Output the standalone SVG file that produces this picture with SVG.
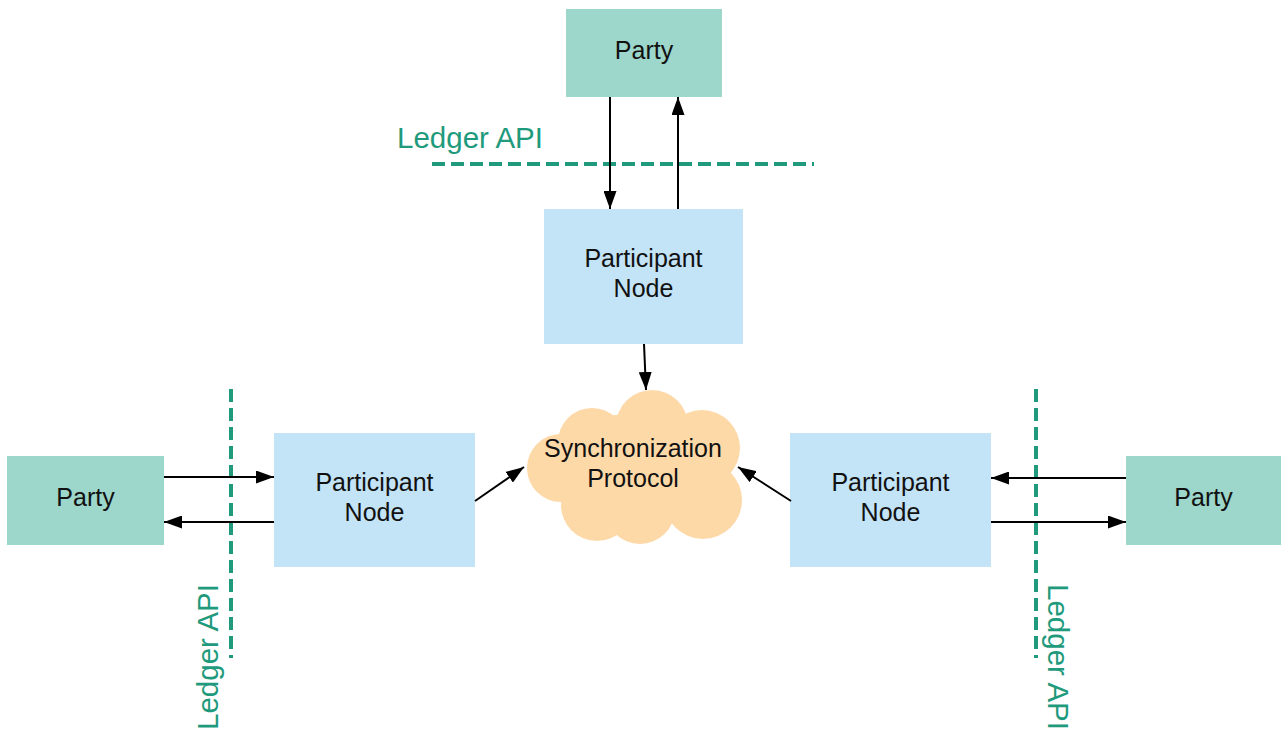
<svg xmlns="http://www.w3.org/2000/svg" width="1281" height="731" viewBox="0 0 1281 731">
<defs>
<marker id="arr" viewBox="0 0 18 13" refX="18" refY="6.5" markerWidth="18" markerHeight="13" markerUnits="userSpaceOnUse" orient="auto">
<path d="M0,0 L18,6.5 L0,13 Z" fill="#000"/>
</marker>
<style>
.party{fill:#9dd6cb}
.pn{fill:#c3e3f6}
.cloud{fill:#fed9a8}
.t{font-family:"Liberation Sans",Arial,sans-serif;font-size:25px;fill:#111;text-anchor:middle}
.api{font-family:"Liberation Sans",Arial,sans-serif;font-size:29.5px;fill:#1f9a7c}
.dash{stroke:#1f9a7c;stroke-width:4;stroke-dasharray:13,6;fill:none}
.c{stroke:#000;stroke-width:2;fill:none;marker-end:url(#arr)}
</style>
</defs>
<rect width="1281" height="731" fill="#fff"/>
<g id="api-lines">
<line class="dash" x1="432" y1="164" x2="814" y2="164"/>
<line class="dash" x1="231" y1="389" x2="231" y2="658"/>
<line class="dash" x1="1036" y1="389" x2="1036" y2="658"/>
<text class="api" x="397" y="148">Ledger API</text>
<text class="api" transform="translate(218,730) rotate(-90)">Ledger API</text>
<text class="api" transform="translate(1048,584) rotate(90)">Ledger API</text>
</g>
<g id="party-top">
<rect class="party" x="566" y="9" width="156" height="88"/>
<text class="t" x="644" y="59">Party</text>
</g>
<g id="pn-top">
<rect class="pn" x="544" y="209" width="199" height="135"/>
<text class="t" x="643.5" y="267">Participant</text>
<text class="t" x="643.5" y="297">Node</text>
</g>
<g id="party-left">
<rect class="party" x="7" y="456" width="157" height="89"/>
<text class="t" x="85.5" y="506">Party</text>
</g>
<g id="pn-left">
<rect class="pn" x="274" y="433" width="201" height="134"/>
<text class="t" x="374.5" y="491">Participant</text>
<text class="t" x="374.5" y="521">Node</text>
</g>
<g id="pn-right">
<rect class="pn" x="790" y="433" width="201" height="134"/>
<text class="t" x="890.5" y="491">Participant</text>
<text class="t" x="890.5" y="521">Node</text>
</g>
<g id="party-right">
<rect class="party" x="1126" y="456" width="155" height="89"/>
<text class="t" x="1203.5" y="506">Party</text>
</g>
<g id="cloud">
<circle class="cloud" cx="652" cy="426" r="36"/>
<circle class="cloud" cx="592" cy="442" r="34"/>
<circle class="cloud" cx="702" cy="448" r="38"/>
<circle class="cloud" cx="561" cy="468" r="34"/>
<circle class="cloud" cx="597" cy="505" r="36"/>
<circle class="cloud" cx="640" cy="509" r="35"/>
<circle class="cloud" cx="703" cy="500" r="39"/>
<ellipse class="cloud" cx="640" cy="468" rx="90" ry="55"/>
<text class="t" x="633" y="457">Synchronization</text>
<text class="t" x="633" y="487">Protocol</text>
</g>
<g id="connectors">
<line class="c" x1="610" y1="97" x2="610" y2="209"/>
<line class="c" x1="678" y1="209" x2="678" y2="97"/>
<line class="c" x1="644" y1="344" x2="646" y2="390"/>
<line class="c" x1="164" y1="477" x2="274" y2="477"/>
<line class="c" x1="274" y1="522" x2="164" y2="522"/>
<line class="c" x1="1126" y1="478" x2="991" y2="478"/>
<line class="c" x1="991" y1="522" x2="1126" y2="522"/>
<line class="c" x1="475" y1="501" x2="524" y2="467"/>
<line class="c" x1="791" y1="501" x2="738" y2="467"/>
</g>
</svg>
